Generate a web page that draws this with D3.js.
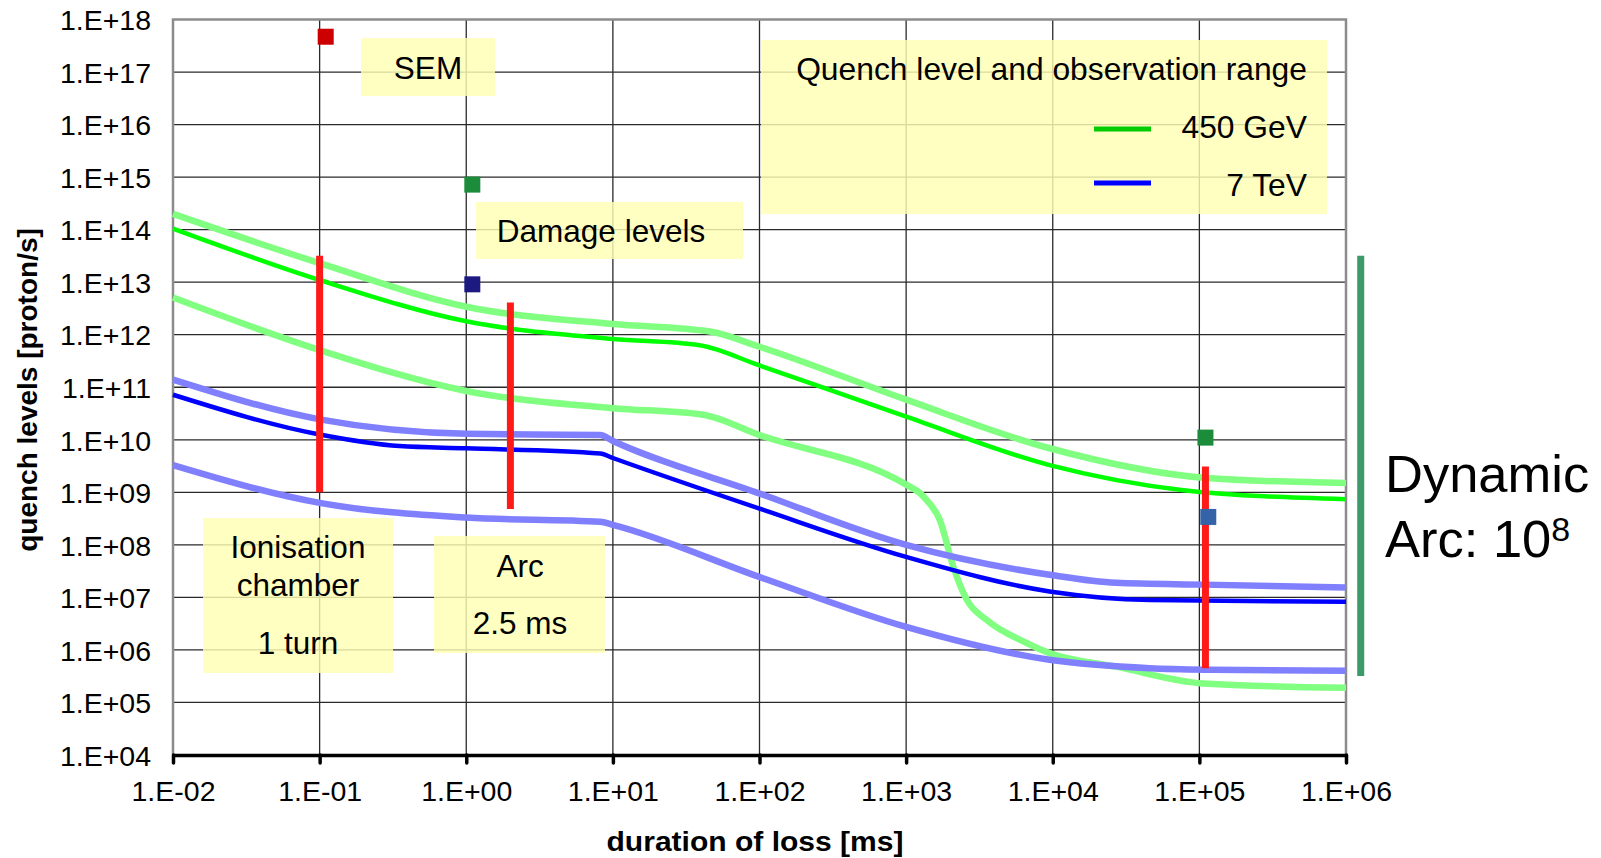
<!DOCTYPE html>
<html>
<head>
<meta charset="utf-8">
<script src="https://cdn.jsdelivr.net/npm/d3@7"></script>
<style>
  body { margin: 0; background: #fff; }
  svg { display: block; font-family: "Liberation Sans", Arial, sans-serif; }
  .grid line { stroke: #2a2a2a; stroke-width: 1.3; }
  .frame { stroke: #8c8c8c; stroke-width: 2.5; fill: none; }
  .x-axis .domain, .x-axis .tick line { stroke: #000; stroke-width: 3.5; }
  .y-axis .domain { display: none; }
  .tick text { font-size: 28.5px; fill: #000; }
  .note-box { fill: #ffffb4; opacity: 0.82; }
  .note { font-size: 31.5px; fill: #000; }
  .curve { fill: none; stroke-linejoin: round; }
</style>
</head>
<body>
<div id="wrapper"></div>
<script>

// quench level curves, [duration of loss in ms, protons/s]
const upper450 = [
  [1e-2, 2.0e14], [1e-1, 2.3e13], [1e0, 3.4e12], [1e1, 1.6e12], [46, 1.15e12],
  [1e2, 5.9e11], [1e3, 5.8e10], [9.5e3, 6.9e9], [1.07e5, 1.9e9], [1e6, 1.5e9],
]
const quench450 = [
  [1e-2, 1.05e14], [1e-1, 1.1e13], [1e0, 1.8e12], [1e1, 8.3e11], [39, 6.3e11],
  [1e2, 2.6e11], [1e3, 2.75e10], [9.5e3, 3.3e9], [7.8e4, 1.1e9], [1e6, 7.4e8],
]
const lower450 = [
  [1e-2, 5.1e12], [1e-1, 5.1e11], [1e0, 8.5e10], [1e1, 4.0e10], [41, 3.0e10],
  [1e2, 1.23e10], [1e3, 1.4e9], [1.25e3, 9.5e8], [1.38e3, 7.1e8], [1.7e3, 2.95e8],
  [2.1e3, 3.8e7], [2.6e3, 8.9e6], [3.55e3, 3.7e6], [6.65e3, 1.35e6], [9.5e3, 8.7e5],
  [2.7e4, 4.8e5], [1.07e5, 2.3e5], [1e6, 1.9e5],
]
const upper7 = [
  [1e-2, 1.4e11], [1e-1, 2.45e10], [1e0, 1.3e10], [8.2, 1.23e10], [1e1, 9.5e9],
  [1e2, 9.5e8], [1e3, 1.0e8], [9.5e3, 2.7e7], [2.7e4, 1.9e7], [1.07e5, 1.75e7], [1e6, 1.55e7],
]
const quench7 = [
  [1e-2, 7.2e10], [1e-1, 1.26e10], [0.35, 7.6e9], [1e0, 6.9e9], [8.2, 5.5e9], [1e1, 4.5e9],
  [1e2, 4.9e8], [1e3, 5.9e7], [9.5e3, 1.3e7], [4.6e4, 8.9e6], [1e6, 8.3e6],
]
const lower7 = [
  [1e-2, 3.3e9], [1e-1, 6.3e8], [1e0, 3.3e8], [8.2, 2.75e8], [1e1, 2.4e8],
  [1e2, 2.45e7], [1e3, 2.75e6], [9.5e3, 6.5e5], [4.6e4, 4.5e5], [1.2e5, 4.2e5], [1e6, 4.0e5],
]

// observation ranges of the monitors: [duration, low, high]
const monitorRanges = [
  [0.1, 1.0e9, 3.2e13],
  [2.0, 4.8e8, 4.1e12],
  [1.1e5, 4.5e5, 3.1e9],
]
const dynamicRange = [1.26e6, 3.2e5, 3.2e13]

// damage levels: [duration, protons/s]
const damagePoints = [
  [0.11, 4.7e17],
  [1.1, 7.2e14],
  [1.1, 9.1e12],
  [1.1e5, 1.1e10],
  [1.15e5, 3.4e8],
]
const damageColors = ["#cc0000", "#1a8c3a", "#1c1a80", "#1a8c3a", "#3563a8"]

const xTicks = [1e-2, 1e-1, 1e0, 1e1, 1e2, 1e3, 1e4, 1e5, 1e6]
const xTickLabels = ["1.E-02", "1.E-01", "1.E+00", "1.E+01", "1.E+02", "1.E+03", "1.E+04", "1.E+05", "1.E+06"]
const yTicks = [1e4, 1e5, 1e6, 1e7, 1e8, 1e9, 1e10, 1e11, 1e12, 1e13, 1e14, 1e15, 1e16, 1e17, 1e18]
const yTickLabels = ["1.E+04", "1.E+05", "1.E+06", "1.E+07", "1.E+08", "1.E+09", "1.E+10", "1.E+11",
  "1.E+12", "1.E+13", "1.E+14", "1.E+15", "1.E+16", "1.E+17", "1.E+18"]

function drawChart() {

  // 1. Chart dimensions

  let dimensions = {
    width: 1601,
    height: 858,
    margin: {
      top: 19.5,
      right: 255,
      bottom: 103,
      left: 173,
    },
  }
  dimensions.boundedWidth = dimensions.width - dimensions.margin.left - dimensions.margin.right
  dimensions.boundedHeight = dimensions.height - dimensions.margin.top - dimensions.margin.bottom

  // 2. Draw canvas

  const wrapper = d3.select("#wrapper")
    .append("svg")
      .attr("width", dimensions.width)
      .attr("height", dimensions.height)

  const bounds = wrapper.append("g")
      .attr("transform", `translate(${dimensions.margin.left}, ${dimensions.margin.top})`)

  // 3. Scales

  const xScale = d3.scaleLog()
      .domain([1e-2, 1e6])
      .range([0, dimensions.boundedWidth])

  const yScale = d3.scaleLog()
      .domain([1e4, 1e18])
      .range([dimensions.boundedHeight, 0])

  // 4. Grid and frame

  const grid = bounds.append("g").attr("class", "grid")
  grid.selectAll(".h")
    .data(yTicks.slice(1, -1))
    .enter().append("line")
      .attr("x1", 0)
      .attr("x2", dimensions.boundedWidth)
      .attr("y1", d => yScale(d))
      .attr("y2", d => yScale(d))
  grid.selectAll(".v")
    .data(xTicks.slice(1, -1))
    .enter().append("line")
      .attr("x1", d => xScale(d))
      .attr("x2", d => xScale(d))
      .attr("y1", 0)
      .attr("y2", dimensions.boundedHeight)

  bounds.append("path")
      .attr("class", "frame")
      .attr("d", `M0,${dimensions.boundedHeight}V0H${dimensions.boundedWidth}V${dimensions.boundedHeight}`)

  // 5. Note boxes (drawn over the grid, under the data)

  const notes = wrapper.append("g")
  const boxes = [
    {x: 361, y: 38, w: 134, h: 58, lines: [["SEM", 428, 79]]},
    {x: 476, y: 202, w: 267, h: 57, lines: [["Damage levels", 601, 242]]},
    {x: 203, y: 518, w: 190, h: 155, lines: [["Ionisation", 298, 558], ["chamber", 298, 596], ["1 turn", 298, 654]]},
    {x: 434, y: 536, w: 171, h: 117, lines: [["Arc", 520, 577], ["2.5 ms", 520, 634]]},
    {x: 761, y: 40, w: 566, h: 174, lines: []},
  ]
  boxes.forEach(b => {
    notes.append("rect")
        .attr("class", "note-box")
        .attr("x", b.x).attr("y", b.y)
        .attr("width", b.w).attr("height", b.h)
    b.lines.forEach(([t, x, y]) => {
      notes.append("text")
          .attr("class", "note")
          .attr("x", x).attr("y", y)
          .attr("text-anchor", "middle")
          .text(t)
    })
  })

  // legend text
  notes.append("text").attr("class", "note")
      .attr("x", 1307).attr("y", 80).attr("text-anchor", "end")
      .style("font-size", "31.8px")
      .text("Quench level and observation range")
  notes.append("text").attr("class", "note")
      .attr("x", 1307).attr("y", 138).attr("text-anchor", "end")
      .style("font-size", "31.8px")
      .text("450 GeV")
  notes.append("text").attr("class", "note")
      .attr("x", 1307).attr("y", 196).attr("text-anchor", "end")
      .style("font-size", "31.8px")
      .text("7 TeV")
  notes.append("line")
      .attr("x1", 1094).attr("x2", 1151).attr("y1", 129).attr("y2", 129)
      .attr("stroke", "#00cc00").attr("stroke-width", 5)
  notes.append("line")
      .attr("x1", 1094).attr("x2", 1151).attr("y1", 183).attr("y2", 183)
      .attr("stroke", "#0000ff").attr("stroke-width", 5)

  // 6. Draw data

  const lineGenerator = d3.line()
      .x(d => xScale(d[0]))
      .y(d => yScale(d[1]))
      .curve(d3.curveMonotoneX)

  const series = [
    {data: upper450, color: "#80ff80", width: 6.5},
    {data: lower450, color: "#80ff80", width: 6.5},
    {data: upper7, color: "#8080ff", width: 6.5},
    {data: lower7, color: "#8080ff", width: 6.5},
    {data: quench450, color: "#00ff00", width: 4.5},
    {data: quench7, color: "#0000ff", width: 4.5},
  ]
  bounds.selectAll(".curve")
    .data(series)
    .enter().append("path")
      .attr("class", "curve")
      .attr("d", d => lineGenerator(d.data))
      .attr("stroke", d => d.color)
      .attr("stroke-width", d => d.width)

  bounds.selectAll(".range")
    .data(monitorRanges)
    .enter().append("line")
      .attr("class", "range")
      .attr("x1", d => xScale(d[0]))
      .attr("x2", d => xScale(d[0]))
      .attr("y1", d => yScale(d[1]))
      .attr("y2", d => yScale(d[2]))
      .attr("stroke", "#ff1a1a")
      .attr("stroke-width", 7)

  bounds.append("line")
      .attr("x1", xScale(dynamicRange[0]))
      .attr("x2", xScale(dynamicRange[0]))
      .attr("y1", yScale(dynamicRange[1]))
      .attr("y2", yScale(dynamicRange[2]))
      .attr("stroke", "#3a9a6a")
      .attr("stroke-width", 7)

  bounds.selectAll(".damage")
    .data(damagePoints)
    .enter().append("rect")
      .attr("class", "damage")
      .attr("x", d => xScale(d[0]) - 8)
      .attr("y", d => yScale(d[1]) - 8)
      .attr("width", 16)
      .attr("height", 16)
      .attr("fill", (d, i) => damageColors[i])

  // 7. Axes

  const xAxisGenerator = d3.axisBottom(xScale)
      .tickValues(xTicks)
      .tickFormat((d, i) => xTickLabels[i])
      .tickSizeInner(8)
      .tickSizeOuter(0)
      .tickPadding(18)

  const xAxis = bounds.append("g")
      .attr("class", "x-axis")
      .attr("transform", `translate(0, ${dimensions.boundedHeight})`)
      .call(xAxisGenerator)
  xAxis.selectAll(".tick line").attr("stroke-linecap", "round")

  const yAxisGenerator = d3.axisLeft(yScale)
      .tickValues(yTicks)
      .tickFormat((d, i) => yTickLabels[i])
      .tickSize(0)
      .tickPadding(22)

  const yAxis = bounds.append("g")
      .attr("class", "y-axis")
      .call(yAxisGenerator)
  yAxis.selectAll(".tick text").attr("dy", "0.36em")

  wrapper.append("text")
      .attr("x", 755)
      .attr("y", 851)
      .attr("text-anchor", "middle")
      .style("font-size", "28px")
      .style("font-weight", "bold")
      .attr("textLength", 297)
      .attr("lengthAdjust", "spacingAndGlyphs")
      .text("duration of loss [ms]")

  wrapper.append("text")
      .attr("transform", "translate(37, 390) rotate(-90)")
      .attr("text-anchor", "middle")
      .style("font-size", "28px")
      .style("font-weight", "bold")
      .text("quench levels [proton/s]")

  // 8. Dynamic range label

  const dyn = wrapper.append("g").style("font-size", "52.5px")
  dyn.append("text")
      .attr("x", 1385).attr("y", 492)
      .text("Dynamic")
  const arc = dyn.append("text")
      .attr("x", 1385).attr("y", 557)
      .text("Arc: 10")
  arc.append("tspan")
      .attr("dy", -16)
      .style("font-size", "34px")
      .text("8")
}
drawChart()
</script>
</body>
</html>
